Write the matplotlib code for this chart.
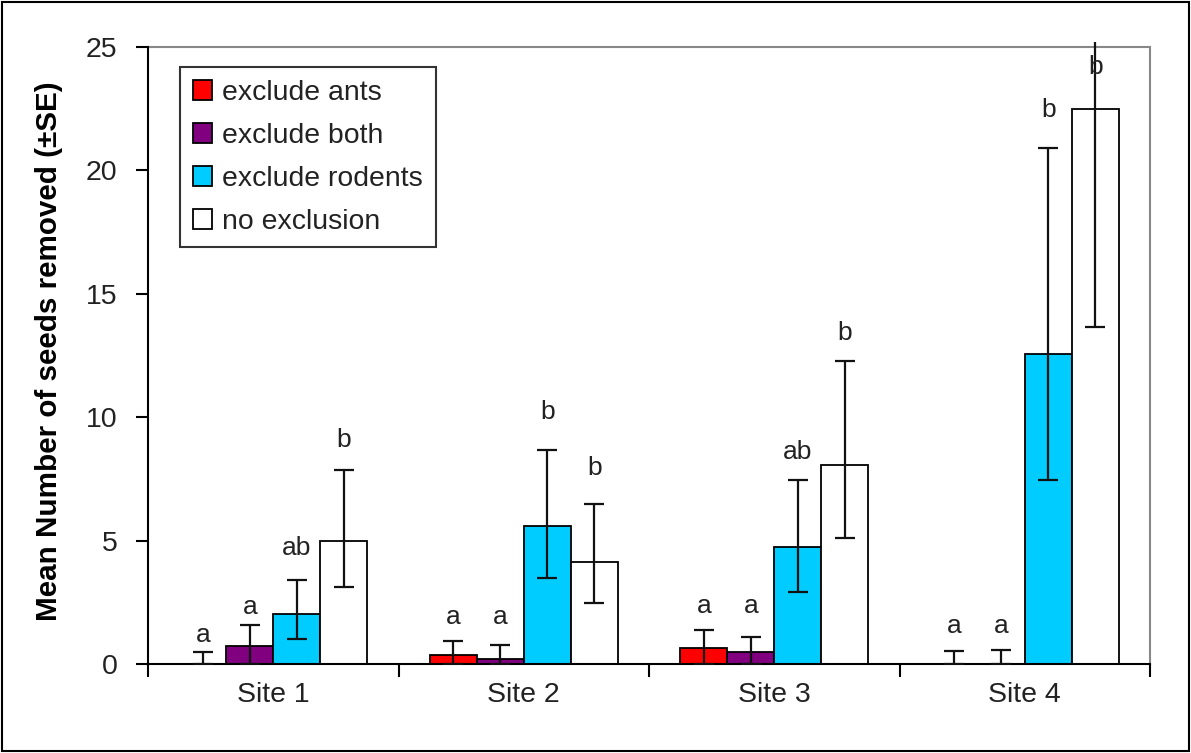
import matplotlib
matplotlib.use("Agg")
import matplotlib.pyplot as plt
import numpy as np
from matplotlib.patches import Rectangle
from matplotlib.ticker import FixedLocator, NullFormatter, FixedFormatter

plt.rcParams['font.family'] = ['Liberation Sans', 'DejaVu Sans']

sites = ["Site 1", "Site 2", "Site 3", "Site 4"]
treatments = ["exclude ants", "exclude both", "exclude rodents", "no exclusion"]
colors = ["#FF0000", "#800080", "#00CCFF", "#FFFFFF"]

# Mean number of seeds removed per treatment, one value per site
mean_ants = [0.0, 0.36, 0.64, 0.0]
mean_both = [0.73, 0.19, 0.47, 0.0]
mean_rodents = [2.03, 5.60, 4.73, 12.58]
mean_none = [4.98, 4.15, 8.06, 22.48]

# Upper and lower ends of the SE bars
upper_ants = [0.49, 0.94, 1.38, 0.53]
upper_both = [1.58, 0.77, 1.08, 0.55]
upper_rodents = [3.40, 8.67, 7.46, 20.90]
upper_none = [7.86, 6.48, 12.28, 31.30]

lower_ants = [0.0, 0.0, 0.0, 0.0]
lower_both = [0.0, 0.0, 0.0, 0.0]
lower_rodents = [1.00, 3.47, 2.92, 7.45]
lower_none = [3.12, 2.48, 5.10, 13.65]

# Significance letters
letters_ants = ["a", "a", "a", "a"]
letters_both = ["a", "a", "a", "a"]
letters_rodents = ["ab", "b", "ab", "b"]
letters_none = ["b", "b", "b", "b"]

y_ticks = [0, 5, 10, 15, 20, 25]

means = [mean_ants, mean_both, mean_rodents, mean_none]
uppers = [upper_ants, upper_both, upper_rodents, upper_none]
lowers = [lower_ants, lower_both, lower_rodents, lower_none]
letters = [letters_ants, letters_both, letters_rodents, letters_none]

# heights at which the letters sit above each bar
letter_y = [
    [1.18, 1.90, 2.35, 1.54],
    [2.31, 1.90, 2.35, 1.54],
    [4.70, 10.20, 8.59, 22.45],
    [9.08, 7.94, 13.40, 24.20],
]

fig = plt.figure(figsize=(11.91, 7.53), dpi=100)
ax = fig.add_axes([0.1243, 0.1182, 0.8413, 0.8259])

x = np.arange(len(sites))
width = 0.1875
offsets = (np.arange(4) - 1.5) * width
text_col = "#222222"

for i in range(4):
    m = np.array(means[i])
    up = np.array(uppers[i]) - m
    lo = m - np.array(lowers[i])
    xs = x + offsets[i]
    ax.bar(xs, m, width=width, color=colors[i], edgecolor="black",
           linewidth=1.3, label=treatments[i], zorder=2)
    ax.errorbar(xs, m, yerr=[lo, up], fmt="none", ecolor="#111111",
                elinewidth=1.6, capsize=7.5, capthick=1.6, zorder=3)
    for j in range(len(sites)):
        ax.text(xs[j], letter_y[i][j], letters[i][j], ha="center", va="center",
                fontsize=19, color=text_col)

ax.set_xlim(-0.5, 3.5)
ax.set_ylim(0, 25.2)

# frame: black left/bottom axis, grey plot-area outline
ax.spines['top'].set_visible(False)
ax.spines['left'].set_bounds(0, 25)
ax.spines['left'].set_linewidth(1.5)
ax.spines['bottom'].set_linewidth(1.5)
ax.spines['right'].set_bounds(0, 25)
ax.spines['right'].set_color("#888888")
ax.spines['right'].set_linewidth(1.5)
ax.axhline(25, color="#888888", linewidth=1.5, zorder=1)

ax.set_yticks(y_ticks)
ax.set_yticklabels([str(t) for t in y_ticks])
ax.tick_params(axis='y', direction='out', length=9, width=1.5, pad=13,
               labelsize=20.5, labelcolor=text_col)

# category boundaries get the tick marks, centres get the labels
ax.xaxis.set_major_locator(FixedLocator(np.arange(-0.5, 4.0, 1.0)))
ax.xaxis.set_major_formatter(NullFormatter())
ax.xaxis.set_minor_locator(FixedLocator(x))
ax.xaxis.set_minor_formatter(FixedFormatter(sites))
ax.tick_params(axis='x', which='major', direction='out', length=9, width=1.5)
ax.tick_params(axis='x', which='minor', length=0, pad=13, labelsize=20.5,
               labelcolor=text_col)

fig.text(49 / 1191, 1 - 351 / 753, "Mean Number of seeds removed (\u00b1SE)",
         rotation=90, ha="center", va="center", fontsize=21.3,
         fontweight="bold", color="black")

leg = ax.legend(loc="upper left", bbox_to_anchor=(0.032, 0.96),
                borderaxespad=0, fontsize=20.4, frameon=True, fancybox=False,
                edgecolor="black", handlelength=0.68, handleheight=0.68,
                handletextpad=0.35, labelspacing=0.6, borderpad=0.45)
leg.get_frame().set_linewidth(1.5)
for t in leg.get_texts():
    t.set_color(text_col)

# outer chart border
fig.patches.append(Rectangle((0.002, 0.003), 0.996, 0.994,
                             transform=fig.transFigure, fill=False,
                             edgecolor="black", linewidth=1.5))

fig.savefig("out.png", dpi=100)
